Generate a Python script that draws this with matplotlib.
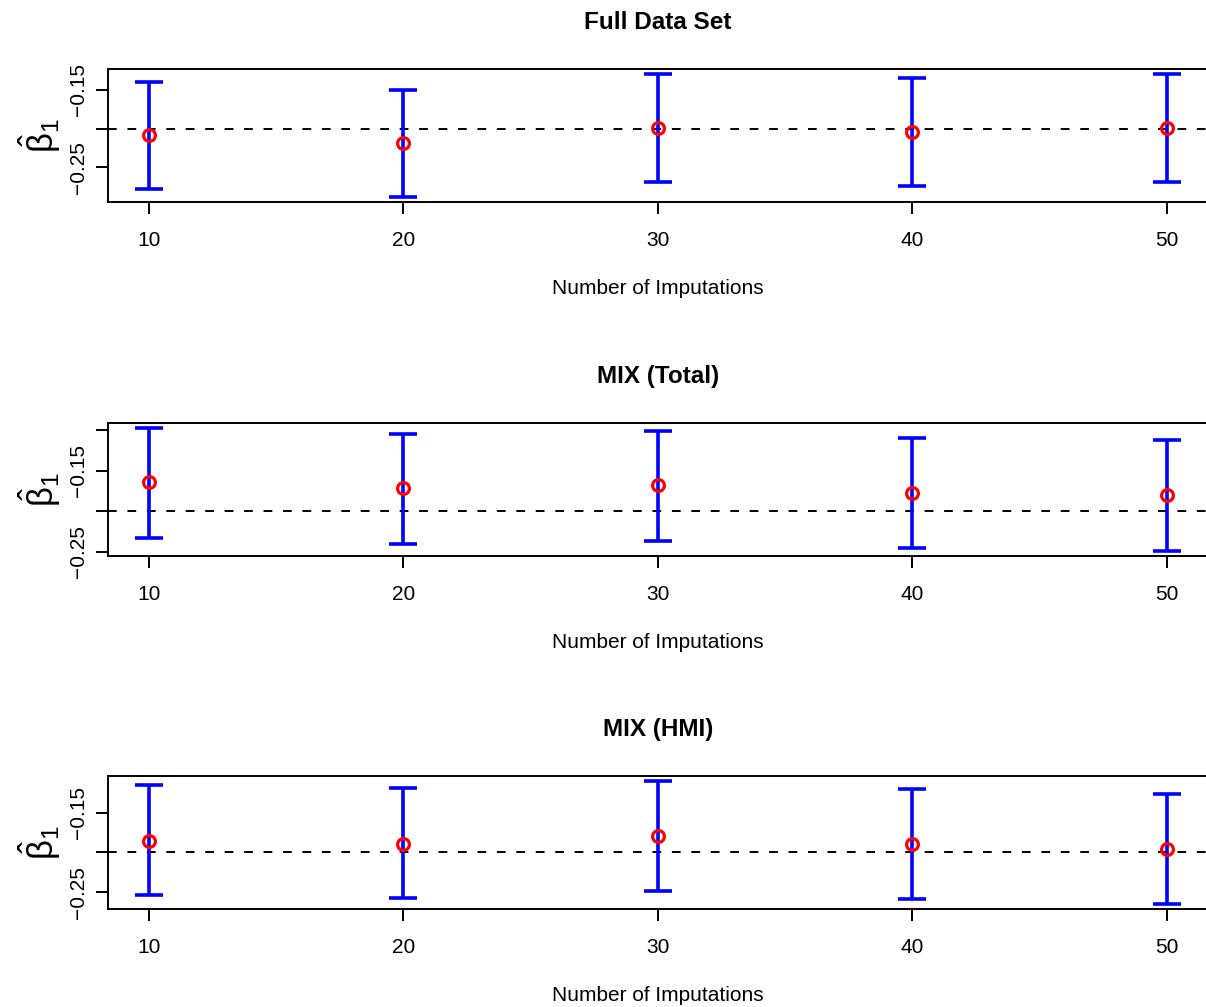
import matplotlib
matplotlib.use("Agg")
import matplotlib.pyplot as plt
import numpy as np

plt.rcParams["font.family"] = ["Liberation Sans", "DejaVu Sans"]
plt.rcParams["mathtext.fontset"] = "custom"
plt.rcParams["mathtext.rm"] = "Liberation Sans"
plt.rcParams["mathtext.it"] = "Liberation Sans"

n_imp = [10, 20, 30, 40, 50]
titles = ["Full Data Set", "MIX (Total)", "MIX (HMI)"]
ref_value = -0.20

# point estimates and 95% interval bounds per panel
est_full = [-0.209, -0.219, -0.199, -0.204, -0.199]
lo_full = [-0.278, -0.2885, -0.269, -0.274, -0.269]
hi_full = [-0.140, -0.150, -0.1295, -0.1346, -0.1295]

est_total = [-0.1646, -0.172, -0.1683, -0.178, -0.1805]
lo_total = [-0.2329, -0.2402, -0.2366, -0.2451, -0.2488]
hi_total = [-0.0976, -0.1049, -0.1012, -0.1098, -0.1122]

est_hmi = [-0.185, -0.1888, -0.1788, -0.190, -0.1963]
lo_hmi = [-0.2538, -0.2575, -0.2488, -0.2588, -0.265]
hi_hmi = [-0.115, -0.1188, -0.110, -0.120, -0.1263]

yticks = [[-0.15, -0.20, -0.25], [-0.10, -0.15, -0.20, -0.25], [-0.15, -0.20, -0.25]]
ylabels_shown = [-0.15, -0.25]

panels = [(est_full, lo_full, hi_full), (est_total, lo_total, hi_total), (est_hmi, lo_hmi, hi_hmi)]
bottoms = [0.7994, 0.4479, 0.0973]

fig = plt.figure(figsize=(12.06, 10.07), dpi=100)

for i, (est, lo, hi) in enumerate(panels):
    ax = fig.add_axes([0.0896, bottoms[i], 0.9116, 0.1321])
    est, lo, hi = np.array(est), np.array(lo), np.array(hi)

    ax.axhline(ref_value, color="black", lw=1.4, ls=(0, (4.5, 5.5)), zorder=1)
    ax.errorbar(n_imp, est, yerr=[est - lo, hi - est], fmt="none",
                ecolor="blue", elinewidth=2.6, capsize=9.8, capthick=2.6, zorder=2)
    ax.plot(n_imp, est, "o", mfc="none", mec="red", mew=2.3, ms=8.5, zorder=3)

    # R-style limits: data range + 4%
    ymin, ymax = lo.min(), hi.max()
    pad = 0.04 * (ymax - ymin)
    ax.set_ylim(ymin - pad, ymax + pad)
    ax.set_xlim(8.4, 51.6)

    ax.set_xticks(n_imp)
    ax.set_xticklabels([str(v) for v in n_imp])
    ax.set_yticks(yticks[i])
    ax.set_yticklabels([f"{v:.2f}".replace("-", "\u2212") if v in ylabels_shown else ""
                        for v in yticks[i]], rotation=90, va="center")

    ax.tick_params(axis="both", direction="out", length=8.6, width=1.4, labelsize=15)
    ax.tick_params(axis="x", pad=12)
    ax.tick_params(axis="y", pad=6)
    for s in ax.spines.values():
        s.set_linewidth(1.4)

    ax.set_title(titles[i], fontsize=17.5, fontweight="bold", pad=29)
    ax.set_xlabel("Number of Imputations", fontsize=15, labelpad=21)
    ax.set_ylabel(r"$\hat{\beta}_1$", fontsize=25, labelpad=4)

fig.savefig("out.png", dpi=100)
